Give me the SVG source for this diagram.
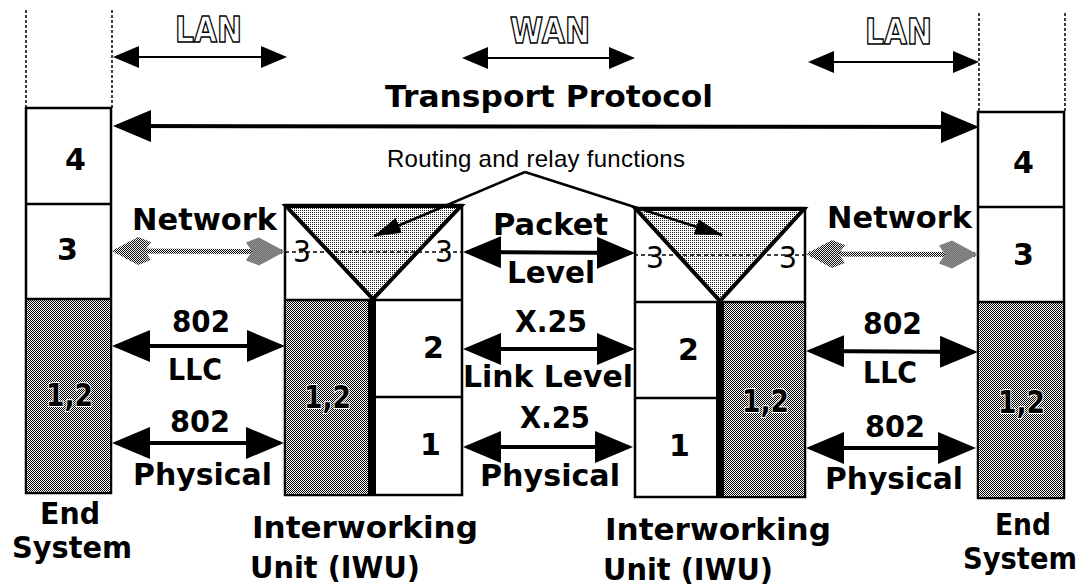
<svg xmlns="http://www.w3.org/2000/svg" width="1089" height="587" viewBox="0 0 1089 587">
<style>
.b{font-family:"DejaVu Sans","Liberation Sans",sans-serif;font-weight:bold;font-size:30px;fill:#000}
.r{font-family:"Liberation Sans",Arial,sans-serif;font-size:24px;fill:#000}
.o{font-family:"DejaVu Sans","Liberation Sans",sans-serif;font-weight:bold;font-size:36px;fill:#fff;stroke:#000;stroke-width:1.5}
.t3{font-family:"DejaVu Sans","Liberation Sans",sans-serif;font-size:30px;fill:#000}
.n{font-size:32px}
.h{stroke:#fff;stroke-width:2;paint-order:stroke}
.box{fill:#fff;stroke:#000;stroke-width:2.5}
.ln{fill:none;stroke:#000;stroke-width:2.5}
.dv{fill:none;stroke:#000;stroke-width:1.5;stroke-dasharray:3 2}
.dh{fill:none;stroke:#000;stroke-width:1.5;stroke-dasharray:4 3}
.tri{fill:url(#lt);stroke:#000;stroke-width:4;stroke-linejoin:miter}
.big{fill:none;stroke:#000;stroke-width:4;marker-start:url(#big);marker-end:url(#big)}
.sm{fill:none;stroke:#000;stroke-width:2;marker-start:url(#sm);marker-end:url(#sm)}
.gr{fill:none;stroke:url(#dk);stroke-width:5;marker-start:url(#gr);marker-end:url(#gr)}
.rt{fill:none;stroke:#000;stroke-width:2.5;marker-end:url(#rt)}
</style>
<defs>
<pattern id="dk" width="2" height="2" patternUnits="userSpaceOnUse"><rect width="2" height="2" fill="#fff"/><rect width="1" height="1" fill="#000"/><rect x="1" y="1" width="1" height="1" fill="#000"/></pattern>
<pattern id="lt" width="2" height="2" patternUnits="userSpaceOnUse"><rect width="2" height="2" fill="#fff"/><rect width="1" height="1" fill="#222"/></pattern>
<marker id="big" viewBox="0 0 38 32" markerWidth="38" markerHeight="32" refX="34" refY="16" markerUnits="userSpaceOnUse" orient="auto-start-reverse"><path d="M0,0 L38,16 L0,32 Z" fill="#000"/></marker>
<marker id="sm" viewBox="0 0 26 22" markerWidth="26" markerHeight="22" refX="23" refY="11" markerUnits="userSpaceOnUse" orient="auto-start-reverse"><path d="M0,0 L26,11 L0,22 Z" fill="#000"/></marker>
<marker id="gr" viewBox="0 0 40 30" markerWidth="40" markerHeight="30" refX="37" refY="15" markerUnits="userSpaceOnUse" orient="auto-start-reverse"><path d="M40,15 L14,1 L1,6 L7,15 L1,24 L14,29 Z" fill="url(#dk)"/></marker>
<marker id="rt" viewBox="0 0 28 16" markerWidth="28" markerHeight="16" refX="27" refY="8" markerUnits="userSpaceOnUse" orient="auto"><path d="M0,0 L28,8 L0,16 Z" fill="#000"/></marker>
</defs>
<rect width="1089" height="587" fill="#fff"/>

<g id="end-system-left">
<line class="dv" x1="26" y1="10" x2="26" y2="108"/>
<line class="dv" x1="112" y1="10" x2="112" y2="108"/>
<rect class="box" x="26" y="108" width="85" height="385"/>
<rect x="27.25" y="299" width="82.5" height="192.75" fill="url(#dk)"/>
<line class="ln" x1="26" y1="204" x2="111" y2="204"/>
<line class="ln" x1="26" y1="299" x2="111" y2="299"/>
<text class="b" x="65" y="170">4</text>
<text class="b" x="57" y="260">3</text>
<text class="b n h" x="46" y="406" textLength="47" lengthAdjust="spacingAndGlyphs">1,2</text>
<text class="b" x="40" y="524" textLength="60" lengthAdjust="spacingAndGlyphs">End</text>
<text class="b" x="12" y="558" textLength="120" lengthAdjust="spacingAndGlyphs">System</text>
</g>

<g id="iwu-left">
<rect class="box" x="285" y="205" width="177" height="290"/>
<rect x="286.25" y="300" width="82" height="193.75" fill="url(#dk)"/>
<rect x="368" y="300" width="8" height="195" fill="#000"/>
<line class="ln" x1="285" y1="300" x2="462" y2="300"/>
<line class="ln" x1="376" y1="397" x2="462" y2="397"/>
<polygon class="tri" points="286,206 461,206 373,299"/>
<line class="dh" x1="285" y1="252" x2="462" y2="252"/>
<text class="t3" x="293" y="262" textLength="18" lengthAdjust="spacingAndGlyphs">3</text>
<text class="t3" x="435" y="262" textLength="18" lengthAdjust="spacingAndGlyphs">3</text>
<text class="b n h" x="304" y="408" textLength="47" lengthAdjust="spacingAndGlyphs">1,2</text>
<text class="b" x="423" y="358">2</text>
<text class="b" x="420" y="455">1</text>
<text class="b" x="252" y="538" textLength="226" lengthAdjust="spacingAndGlyphs">Interworking</text>
<text class="b" x="250" y="578" textLength="170" lengthAdjust="spacingAndGlyphs">Unit (IWU)</text>
</g>

<g id="iwu-right">
<rect class="box" x="635" y="208" width="170" height="289"/>
<rect x="724" y="302" width="79.75" height="193.75" fill="url(#dk)"/>
<rect x="716" y="302" width="8" height="195" fill="#000"/>
<line class="ln" x1="635" y1="302" x2="805" y2="302"/>
<line class="ln" x1="635" y1="398" x2="716" y2="398"/>
<polygon class="tri" points="636,209 804,209 720,301"/>
<line class="dh" x1="634" y1="255" x2="806" y2="255"/>
<text class="t3" x="646" y="268" textLength="18" lengthAdjust="spacingAndGlyphs">3</text>
<text class="t3" x="779" y="268" textLength="18" lengthAdjust="spacingAndGlyphs">3</text>
<text class="b" x="678" y="360">2</text>
<text class="b" x="669" y="456">1</text>
<text class="b n h" x="742" y="412" textLength="47" lengthAdjust="spacingAndGlyphs">1,2</text>
<text class="b" x="605" y="540" textLength="226" lengthAdjust="spacingAndGlyphs">Interworking</text>
<text class="b" x="603" y="580" textLength="170" lengthAdjust="spacingAndGlyphs">Unit (IWU)</text>
</g>

<g id="end-system-right">
<line class="dv" x1="979" y1="13" x2="979" y2="112"/>
<line class="dv" x1="1065" y1="13" x2="1065" y2="112"/>
<rect class="box" x="978" y="112" width="86" height="386"/>
<rect x="979.25" y="302" width="83.5" height="194.75" fill="url(#dk)"/>
<line class="ln" x1="978" y1="207" x2="1064" y2="207"/>
<line class="ln" x1="978" y1="302" x2="1064" y2="302"/>
<text class="b" x="1013" y="173">4</text>
<text class="b" x="1013" y="265">3</text>
<text class="b n h" x="998" y="413" textLength="47" lengthAdjust="spacingAndGlyphs">1,2</text>
<text class="b" x="995" y="535" textLength="56" lengthAdjust="spacingAndGlyphs">End</text>
<text class="b" x="963" y="569" textLength="114" lengthAdjust="spacingAndGlyphs">System</text>
</g>

<g id="connectors">
<line class="sm" x1="116" y1="57" x2="284" y2="57"/>
<line class="sm" x1="465" y1="58" x2="632" y2="58"/>
<line class="sm" x1="811" y1="62" x2="976" y2="62"/>
<line class="big" x1="117" y1="126" x2="975" y2="127"/>
<line class="gr" x1="115" y1="251" x2="282" y2="251.5"/>
<line class="gr" x1="809" y1="254" x2="975" y2="254.5"/>
<line class="big" x1="467" y1="252" x2="631" y2="253"/>
<line class="big" x1="116" y1="346" x2="281" y2="346"/>
<line class="big" x1="467" y1="349" x2="631" y2="349"/>
<line class="big" x1="810" y1="351" x2="974" y2="352"/>
<line class="big" x1="116" y1="443" x2="280" y2="443"/>
<line class="big" x1="467" y1="447" x2="629" y2="447"/>
<line class="big" x1="810" y1="448" x2="972" y2="448"/>
<path class="rt" d="M525,172 L374,236"/>
<path class="rt" d="M525,172 L722,235"/>
</g>

<g id="labels">
<text class="o" x="175" y="42" textLength="67" lengthAdjust="spacingAndGlyphs">LAN</text>
<text class="o" x="510" y="43" textLength="80" lengthAdjust="spacingAndGlyphs">WAN</text>
<text class="o" x="865" y="44" textLength="67" lengthAdjust="spacingAndGlyphs">LAN</text>
<text class="b" x="385" y="107" textLength="328" lengthAdjust="spacingAndGlyphs">Transport Protocol</text>
<text class="r" x="387" y="167" textLength="298">Routing and relay functions</text>
<text class="b" x="132" y="230" textLength="145" lengthAdjust="spacingAndGlyphs">Network</text>
<text class="b" x="827" y="228" textLength="145" lengthAdjust="spacingAndGlyphs">Network</text>
<text class="b" x="493" y="235" textLength="115" lengthAdjust="spacingAndGlyphs">Packet</text>
<text class="b" x="507" y="283" textLength="88" lengthAdjust="spacingAndGlyphs">Level</text>
<text class="b" x="172" y="332" textLength="58" lengthAdjust="spacingAndGlyphs">802</text>
<text class="b" x="168" y="380" textLength="54" lengthAdjust="spacingAndGlyphs">LLC</text>
<text class="b" x="515" y="332" textLength="72" lengthAdjust="spacingAndGlyphs">X.25</text>
<text class="b" x="463" y="387" textLength="170" lengthAdjust="spacingAndGlyphs">Link Level</text>
<text class="b" x="863" y="334" textLength="59" lengthAdjust="spacingAndGlyphs">802</text>
<text class="b" x="863" y="383" textLength="54" lengthAdjust="spacingAndGlyphs">LLC</text>
<text class="b" x="170" y="432" textLength="60" lengthAdjust="spacingAndGlyphs">802</text>
<text class="b" x="133" y="485" textLength="139" lengthAdjust="spacingAndGlyphs">Physical</text>
<text class="b" x="520" y="428" textLength="70" lengthAdjust="spacingAndGlyphs">X.25</text>
<text class="b" x="480" y="486" textLength="140" lengthAdjust="spacingAndGlyphs">Physical</text>
<text class="b" x="865" y="437" textLength="60" lengthAdjust="spacingAndGlyphs">802</text>
<text class="b" x="825" y="489" textLength="138" lengthAdjust="spacingAndGlyphs">Physical</text>
</g>
</svg>
